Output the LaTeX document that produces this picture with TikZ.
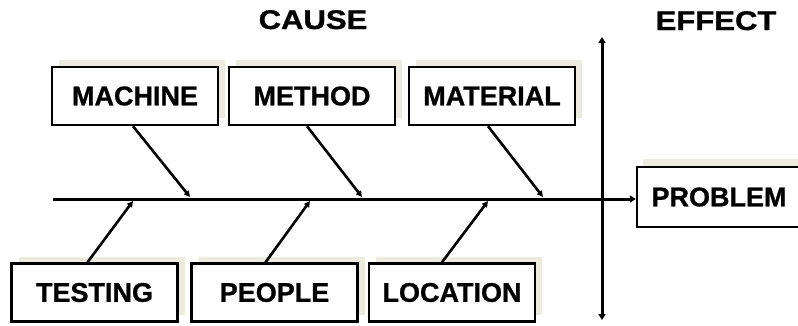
\documentclass[tikz,border=0pt]{standalone}
\usepackage{fontspec}
\setmainfont{Liberation Sans}[BoldFeatures={FakeBold=0.9}]
\usetikzlibrary{arrows.meta,shadows}
\definecolor{beige}{RGB}{237,234,223}
\begin{document}
\begin{tikzpicture}[x=1pt,y=-1pt,
  label font/.style={font=\bfseries\fontsize{27}{27}\selectfont},
  causebox/.style={label font, draw=black, line width=2.4pt, fill=white,
    minimum width=166pt, minimum height=58pt, inner sep=0pt,
    copy shadow={shadow xshift=7pt, shadow yshift=7pt, fill=beige, draw=none}},
  title/.style={font=\bfseries\fontsize{27}{27}\selectfont, xscale=1.15, anchor=base, inner sep=0pt},
  bone/.style={line width=2.6pt, -{Triangle[length=6pt,width=6pt]}},
  spine/.style={line width=3pt, -{Triangle[length=6pt,width=7pt]}},
  axis/.style={line width=3pt, {Triangle[length=6pt,width=7pt]}-{Triangle[length=6pt,width=7pt]}}]
\useasboundingbox (0,0) rectangle (798,325);

% headings
\node[title] (cause) at (313,29) {CAUSE};
\node[title] (effect) at (716,30) {EFFECT};

% cause categories above the spine
\node[causebox] (machine)  at (135,96) {MACHINE};
\node[causebox] (method)   at (312,96) {METHOD};
\node[causebox] (material) at (492,96) {MATERIAL};

% cause categories below the spine
\node[causebox] (testing)  at (94.5,292.5) {TESTING};
\node[causebox] (people)   at (274.5,292.5) {PEOPLE};
\node[causebox] (location) at (452,292.5) {LOCATION};

% effect box
\node[causebox, minimum width=164pt, minimum height=60pt,
      copy shadow={shadow xshift=6pt, shadow yshift=8pt, fill=beige, draw=none}]
      (problem) at (719,197) {PROBLEM};

% spine and the cause/effect divider
\coordinate (tail) at (53,199);
\coordinate (divtop) at (602,37);
\coordinate (divbot) at (602,320);
\draw[axis] (divtop) -- (divbot);
\draw[spine] (tail) -- (problem.west |- tail);

% points where the bones meet the spine
\coordinate (jmachine)  at (190,197);
\coordinate (jmethod)   at (362,197);
\coordinate (jmaterial) at (543,197);
\coordinate (jtesting)  at (133,201);
\coordinate (jpeople)   at (310,201);
\coordinate (jlocation) at (488,201);

% bones
\draw[bone] ([xshift=-2pt]machine.south)  -- (jmachine);
\draw[bone] ([xshift=-5pt]method.south)   -- (jmethod);
\draw[bone] ([xshift=-4pt]material.south) -- (jmaterial);
\draw[bone] ([xshift=-7pt]testing.north)  -- (jtesting);
\draw[bone] ([xshift=-9pt]people.north)   -- (jpeople);
\draw[bone] ([xshift=-10pt]location.north) -- (jlocation);
\end{tikzpicture}
\end{document}
